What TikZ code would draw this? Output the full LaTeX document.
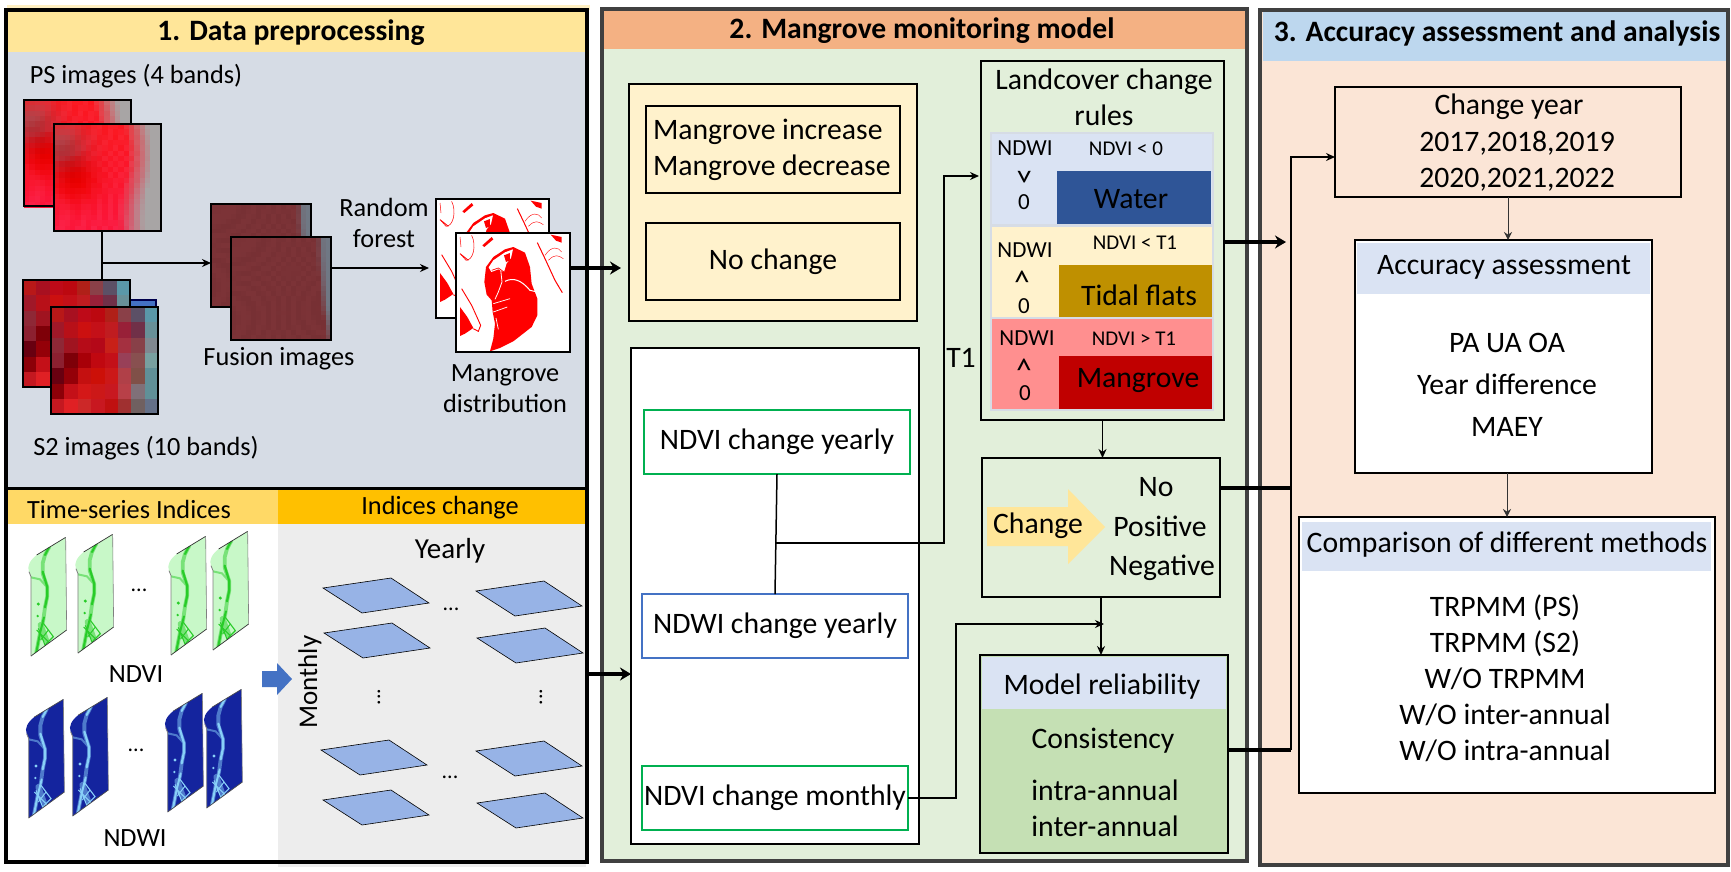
\documentclass[tikz,border=0pt]{standalone}
\usepackage{fontspec}
\setmainfont{Carlito}
\usetikzlibrary{arrows.meta,calc}
\definecolor{hdA}{HTML}{FFE699}
\definecolor{hdB}{HTML}{FFD966}
\definecolor{hdC}{HTML}{FFC000}
\definecolor{hdD}{HTML}{F4B183}
\definecolor{hdE}{HTML}{BDD7EE}
\definecolor{slateb}{HTML}{D6DCE5}
\definecolor{greenb}{HTML}{E2EFDA}
\definecolor{peachb}{HTML}{FBE5D6}
\definecolor{creamb}{HTML}{FFF2CC}
\definecolor{paleb}{HTML}{DAE3F3}
\definecolor{grayb}{HTML}{EDEDED}
\definecolor{framed}{HTML}{404040}
\definecolor{okgreen}{HTML}{00B050}
\definecolor{okblue}{HTML}{4472C4}
\definecolor{parac}{HTML}{97B3E6}
\definecolor{waterc}{HTML}{2F5597}
\definecolor{tidalc}{HTML}{BF9000}
\definecolor{mangc}{HTML}{C00000}
\definecolor{pinkc}{HTML}{FF8F8F}
\definecolor{modelc}{HTML}{C5E0B4}
\definecolor{chgc}{HTML}{FFE699}
\definecolor{stripG}{HTML}{C8F8C8}
\definecolor{stripGb}{HTML}{28CC28}
\definecolor{stripB}{HTML}{14249E}
\definecolor{stripBb}{HTML}{88D0F8}
\definecolor{mapred}{HTML}{FF0000}
\tikzset{
  lab/.style={inner sep=0pt,outer sep=0pt,align=center,text=black,font=\fontsize{26.3}{30}\selectfont},
  big/.style={lab,font=\fontsize{29.7}{36}\selectfont},
  small/.style={lab,font=\fontsize{21}{25}\selectfont},
  smallb/.style={lab,font=\fontsize{23}{25}\selectfont},
  chev/.style={lab,font=\fontsize{32}{32}\selectfont},
  ttl/.style={lab,font=\bfseries\fontsize{29.6}{34}\selectfont},
  box/.style={inner sep=0pt,outer sep=0pt,draw=black,line width=1.8pt},
  plain/.style={inner sep=0pt,outer sep=0pt},
  arr/.style={draw=black,line width=1.5pt,-{Stealth[length=9pt,width=8pt]}},
  thinarr/.style={draw=black!80,line width=1pt,-{Stealth[length=8pt,width=8pt]}},
  line/.style={draw=black,line width=1.5pt},
  fat/.style={draw=black,line width=3.6pt},
  fatarr/.style={fat,-{Stealth[length=11pt,width=13pt]}},
  parallel/.style={fill=parac,draw=black,line width=.6pt},
}
\newcommand\bx[7]{%
  \pgfmathsetmacro\myX{(#2+#4)/2}\pgfmathsetmacro\myY{(#3+#5)/2}%
  \pgfmathsetmacro\myW{#4-#2}\pgfmathsetmacro\myH{#5-#3}%
  \node[plain,minimum width=\myW pt,minimum height=\myH pt,#6] (#1) at (\myX,\myY) {#7};}
\newcommand\psmap[3]{%
  \foreach \i in {0,...,19}{\foreach \j in {0,...,19}{%
    \pgfmathsetmacro\pxu{(\i+.5)/20}\pgfmathsetmacro\pxv{(\j+.5)/20}%
    \pgfmathsetmacro\pxn{.5+.5*sin(\i*\i*7+\j*\j*11+\i*\j*3+#3)}%
    \pgfmathsetmacro\pxt{min(1,max(0,(\pxu-.64-.04*sin(\pxv*300))/.24))}%
    \pgfmathsetmacro\pxa{exp(-((\pxu-.08)*(\pxu-.08)+(\pxv-.22)*(\pxv-.22))/.05)}%
    \pgfmathsetmacro\pxb{exp(-((\pxu-.2)*(\pxu-.2)+(\pxv-.52)*(\pxv-.52))/.05)}%
    \pgfmathtruncatemacro\pxR{(1-\pxt)*(252-75*\pxa-12*\pxb)+\pxt*168}%
    \pgfmathtruncatemacro\pxG{(1-\pxt)*(22+12*\pxn+38*\pxa)*(1-\pxb)+\pxt*165}%
    \pgfmathtruncatemacro\pxB{(1-\pxt)*(30+14*\pxn+\pxv*30+30*\pxa)*(1-\pxb)+\pxt*165}%
    \definecolor{pxc}{RGB}{\pxR,\pxG,\pxB}%
    \fill[pxc] ({#1+\i*5.35},{#2+\j*5.35}) rectangle ++(5.9,5.9);
  }}}
\newcommand\fusmap[2]{%
  \foreach \i in {0,...,19}{\foreach \j in {0,...,20}{%
    \pgfmathsetmacro\pxu{(\i+.5)/20}\pgfmathsetmacro\pxv{(\j+.5)/21}%
    \pgfmathsetmacro\pxn{sin(\i*\i*7+\j*\j*11+\i*\j*3)}%
    \pgfmathsetmacro\pxt{min(1,max(0,(\pxu-.86-.10*\pxv*\pxv)/.07))}%
    \pgfmathtruncatemacro\pxR{(1-\pxt)*(122+3*\pxn)+\pxt*112}%
    \pgfmathtruncatemacro\pxG{(1-\pxt)*(50+2*\pxn)+\pxt*120}%
    \pgfmathtruncatemacro\pxB{(1-\pxt)*(54+2*\pxn)+\pxt*132}%
    \definecolor{pxc}{RGB}{\pxR,\pxG,\pxB}%
    \fill[pxc] ({#1+\i*5},{#2+\j*4.9}) rectangle ++(5.5,5.4);
  }}}
\newcommand\stwomap[2]{%
  \foreach \row [count=\j from 0] in {%
   {B81818,A81020,BE0A18,BC0810,B02018,8A4048,5C5066,5A98A8},%
   {A01828,B81018,CC1010,C41018,C01C20,982038,703048,689098},%
   {8E2836,A01420,B60C18,B40818,C82018,A43040,884048,808890},%
   {8C2030,7E0008,A80008,C00810,C41018,984058,885050,78A0A0},%
   {680010,940008,C41010,CC1008,CC1818,B04048,805048,609098},%
   {8C0008,C41018,D41818,CC1818,C81820,B84048,807078,609098},%
   {C41820,E02024,CC2828,C81820,C01010,A03030,706060,647088}}{%
    \foreach \cellc [count=\i from 0] in \row {%
      \definecolor{pxc}{HTML}{\cellc}%
      \fill[pxc] ({#1+\i*13.375},{#2+\j*15.3}) rectangle ++(13.8,15.7);
    }}}
\newcommand\mangmap{%
  \fill[mapred] (180,478) -- (190,440) -- (195,395) -- (188,360) -- (185,325) -- (170,308) -- (163,270) -- (168,225) -- (190,195) -- (225,172) -- (250,165) -- (285,182) -- (300,225) -- (305,275) -- (322,320) -- (322,370) -- (305,405) -- (250,448) -- (210,468) -- cycle;
  \fill[white] (176,226) -- (190,205) -- (225,181) -- (249,172) -- (243,198) -- (230,214) -- (222,240) -- (205,232) -- (184,240) -- cycle;
  \draw[white,line width=.8pt] (212,232) -- (216,270) -- (205,300) -- (195,322);
  \draw[white,line width=1pt] (225,268) .. controls (250,255) and (275,265) .. (300,295) -- (322,300);
  \draw[white,line width=.7pt] (190,335) -- (240,320);
  \draw[white,line width=.7pt] (190,360) -- (232,345);
  \draw[white,line width=.7pt] (198,378) -- (205,412);
  \fill[mapred] (222,190) -- (240,183) -- (240,205) -- (228,210) -- cycle;
  \draw[mapred,line width=.7pt] (185,235) -- (205,228) -- (222,240);
  \fill[mapred] (90,345) -- (112,375) -- (130,408) -- (105,425) -- (90,432) -- cycle;
  \draw[mapred,line width=.9pt] (95,290) -- (125,340) -- (152,400) -- (145,418) -- (130,410);
  \fill[mapred] (157,160) -- (185,135) -- (190,142) -- (163,165) -- cycle;
  \draw[mapred,line width=.5pt] (125,130) .. controls (140,160) and (130,205) .. (108,205) -- (93,188);
  \fill[mapred] (362,128) -- (395,135) -- (395,152) -- (378,146) -- cycle;
  \draw[mapred,line width=1pt] (322,152) -- (345,200) -- (375,265) -- (397,302);
  \draw[mapred,line width=.4pt] (345,190) .. controls (365,160) and (385,165) .. (395,180);
  \draw[mapred,line width=.4pt] (355,205) .. controls (375,185) and (385,190) .. (400,200);
  \draw[mapred,line width=.5pt] (90,135) -- (93,165);
  \draw[mapred,line width=.9pt] (90,185) -- (115,205);
}
\newcommand\idxstrip[5]{%
  \begin{scope}[shift={(#1,#2)},x=.3333pt,y=-.3333pt]
    \begin{scope}
      \clip (137,22) -- (50,75) .. controls (30,90) and (20,110) .. (27,125) -- (33,140) -- (33,378) -- (140,300) -- cycle;
      \fill[#3] (0,0) rectangle (150,390);
      \draw[#3!50!#4,line width=3.8pt,line cap=round,line join=round] (88,50) -- (75,75) -- (68,100) -- (68,130) -- (82,172) -- (82,198) -- (75,232) -- (70,270) -- (60,310) -- (48,372);
      \draw[#3!50!#4,line width=2pt] (33,142) -- (60,148) -- (78,168);
      \draw[#3!50!#4,line width=6pt,line cap=round] (62,285) -- (78,330);
      \draw[#4,line width=2pt,line cap=round,line join=round] (88,50) -- (75,75);
      \draw[#4,line width=2.2pt,line cap=round,line join=round] (68,125) -- (82,172) -- (82,198) -- (75,232);
      \draw[#4,line width=2pt,line cap=round,line join=round] (72,262) -- (60,310) -- (48,372);
      \fill[#4] (55,222) circle (5);
      \fill[#4] (53,258) circle (4);
      \draw[#4,line width=1.1pt] (70,280) -- (100,320) -- (75,345) -- (55,295);
      \draw[#4,line width=1pt] (50,300) -- (90,340);
      \draw[#4,line width=1pt] (62,330) -- (85,300);
    \end{scope}
    \draw[#5,line width=.7pt] (137,22) -- (50,75);
    \draw[#5,line width=.7pt] (33,378) -- (140,300);
    \draw[gray,line width=.6pt] (137,22) -- (140,300);
    \draw[gray,line width=.8pt] (27,125) -- (33,140) -- (33,378);
  \end{scope}}
\begin{document}
\begin{tikzpicture}[x=1pt,y=-1pt]
\useasboundingbox (0,0) rectangle (1731,871);
\fill[white] (0,0) rectangle (1731,871);

% ---------- panel 1 ----------
\fill[hdA!60] (7,5) rectangle (590,10);
\fill[grayb] (278,860) rectangle (586,867);
\bx{hd1}{7}{11}{586}{52}{fill=hdA}{}
\bx{pre}{7}{52}{586}{488}{fill=slateb}{}
\bx{tsh}{7}{489}{278}{524}{fill=hdB}{}
\bx{ich}{278}{489}{586}{524}{fill=hdC}{}
\bx{tsb}{7}{524}{278}{861}{fill=white}{}
\bx{icb}{278}{524}{586}{861}{fill=grayb}{}
\node[ttl] (t1) at (291,33) {1. Data preprocessing};
\node[lab] (l1) at (136,76) {PS images (4 bands)};
\node[lab] (l2) at (146,448) {S2 images (10 bands)};
\node[lab] (l3) at (279,359) {Fusion images};
\node[lab] (l4) at (384,223) {Random\\[1pt]forest};
\node[lab] (l5) at (505,389) {Mangrove\\[1pt]distribution};
\node[lab] (l6) at (129,509) {Time-series Indices};
\node[lab] (l7) at (440,508) {Indices change};

\psmap{24}{100}{0}
\bx{psb}{24}{100}{131}{206}{draw=black,line width=1.3pt}{}
\psmap{54}{124}{40}
\bx{psf}{54}{124}{161}{231}{draw=black,line width=1.3pt}{}
\fill[okblue] (130,300) rectangle (156,320);
\draw[black!70!blue,line width=1.3pt] (130,300) -- (156,300) -- (156,320);
\stwomap{23}{280}
\bx{stb}{23}{280}{130}{387}{draw=black,line width=1.3pt}{}
\stwomap{51}{307}
\bx{stf}{51}{307}{158}{414}{draw=black,line width=1.3pt}{}
\fusmap{211}{204}
\bx{fub}{211}{204}{311}{307}{draw=black,line width=1.3pt}{}
\fusmap{231}{237}
\bx{fuf}{231}{237}{331}{340}{draw=black,line width=1.3pt}{}
\bx{mab}{436}{199}{549}{318}{fill=white}{}
\begin{scope}
  \clip (436,199) rectangle (549,318);
  \begin{scope}[shift={(410,158)},x=.3333pt,y=-.3333pt]\mangmap\end{scope}
\end{scope}
\draw[black,line width=1.2pt] (mab.north west) rectangle (mab.south east);
\bx{maf}{456}{233}{570}{352}{fill=white}{}
\begin{scope}
  \clip (456,233) rectangle (570,352);
  \begin{scope}[shift={(430,192)},x=.3333pt,y=-.3333pt]\mangmap\end{scope}
\end{scope}
\draw[black,line width=1.2pt] (maf.north west) rectangle (maf.south east);

\coordinate (j1) at (102,263);
\draw[line] (j1 |- psf.south) -- (j1 |- stb.north);
\draw[arr] (j1) -- (j1 -| fub.west);
\coordinate (fo) at (331,268);
\coordinate (mi) at (436,268);
\draw[arr,shorten >=7pt] (fo) -- (mi);

\foreach \dx/\dy in {0/0,47/-3,140/-1,182/-6}{\idxstrip{\dx+20}{\dy+530}{stripG}{stripGb}{black!80}}
\foreach \dx/\dy in {0/0,44/-2,139/-6,178/-10}{\idxstrip{\dx+17.7}{\dy+692}{stripB}{stripBb}{black!70}}
\node[lab,font=\fontsize{22}{26}\selectfont] (d1) at (139,590) {...};
\node[lab,font=\fontsize{22}{26}\selectfont] (d2) at (136,750) {...};
\node[lab] (l8) at (136,674) {NDVI};
\node[lab] (l9) at (135,838) {NDWI};
\fill[okblue] (262,671) -- (277,671) -- (277,663) -- (292,679) -- (277,695) -- (277,687) -- (262,687) -- cycle;
\node[lab,font=\fontsize{29}{32}\selectfont] (l10) at (450,551) {Yearly};
\node[lab,rotate=90,font=\fontsize{27}{30}\selectfont] (l11) at (310,682) {Monthly};
\foreach \px/\py in {323/588,324/633,321/750,323/800,476/591,477/638,476/751,477/803}{
  \filldraw[parallel] (\px,\py) -- ++(68,-10) -- ++(38,25) -- ++(-67,10) -- cycle;}
\node[lab,font=\fontsize{22}{26}\selectfont] (d3) at (451,609) {...};
\node[lab,font=\fontsize{22}{26}\selectfont] (d4) at (450,777) {...};
\node[lab,rotate=90,font=\fontsize{22}{26}\selectfont] (d5) at (379,697) {...};
\node[lab,rotate=90,font=\fontsize{22}{26}\selectfont] (d6) at (541,697) {...};

\draw[black,line width=3.4pt] (6,10) rectangle (587,862);
\draw[black,line width=2.6pt] (6,488.5) -- (587,488.5);
\bx{p1}{6}{10}{587}{862}{}{}

% ---------- panel 2 ----------
\bx{p2}{602}{9}{1247}{861}{fill=greenb,draw=framed,line width=3.4pt}{}
\bx{hd2}{604}{11}{1245}{49}{fill=hdD}{}
\node[ttl] (t2) at (922,31) {2. Mangrove monitoring model};
\bx{ybox}{629}{84}{917}{321}{box,fill=creamb}{}
\bx{ybi}{646}{106}{900}{193}{box}{}
\node[big,align=left,anchor=west] (l20) at (653,150) {Mangrove increase\\Mangrove decrease};
\bx{nch}{646}{223}{900}{300}{box}{\fontsize{29.7}{32}\selectfont No change}
\bx{wbox}{631}{348}{919}{844}{box,fill=white}{}
\bx{nvy}{644}{410}{910}{474}{draw=okgreen,line width=1.8pt}{\fontsize{29.7}{32}\selectfont NDVI change yearly}
\bx{nwy}{642}{594}{908}{658}{draw=okblue,line width=1.8pt}{\fontsize{29.7}{32}\selectfont NDWI change yearly}
\bx{nvm}{642}{766}{908}{830}{draw=okgreen,line width=1.8pt}{\fontsize{29.7}{32}\selectfont NDVI change monthly}
\node[big] (l21) at (961,358) {T1};

\bx{lc}{981}{61}{1224}{420}{box}{}
\node[big] (l22) at (1104,97) {Landcover change\\rules};
\bx{tb}{990}{132}{1214}{411}{fill=slateb}{}
\bx{r1}{992}{134}{1212}{224}{fill=paleb}{}
\bx{r2}{992}{227}{1212}{317}{fill=creamb}{}
\bx{r3}{992}{319}{1212}{409}{fill=pinkc}{}
\bx{cw}{1057}{171}{1211}{224}{fill=waterc}{}
\bx{ct}{1059}{265}{1212}{317}{fill=tidalc}{}
\bx{cm}{1059}{356}{1212}{409}{fill=mangc}{}
\node[big] (w1) at (1131,199) {Water};
\node[big] (w2) at (1139,295) {Tidal flats};
\node[big] (w3) at (1138,381) {Mangrove};
\node[smallb] (a1) at (1025,148) {NDWI};
\node[chev,rotate=-90] (a2) at (1023,176) {>};
\node[smallb] (a3) at (1024,202) {0};
\node[small] (a4) at (1126,149) {NDVI < 0};
\node[smallb] (b1) at (1025,250) {NDWI};
\node[chev,rotate=90] (b2) at (1024,278) {>};
\node[smallb] (b3) at (1024,306) {0};
\node[small] (b4) at (1135,243) {NDVI < T1};
\node[smallb] (c1) at (1027,338) {NDWI};
\node[chev,rotate=90] (c2) at (1026,366) {>};
\node[smallb] (c3) at (1025,393) {0};
\node[small] (c4) at (1134,339) {NDVI > T1};

\bx{cb}{982}{458}{1220}{597}{box}{}
\fill[chgc] (987,507) -- (1068,507) -- (1068,489) -- (1105,527) -- (1068,564) -- (1068,546) -- (987,546) -- cycle;
\node[big] (e1) at (1038,526) {Change};
\node[big] (e2) at (1156,487) {No};
\node[big] (e3) at (1160,526) {Positive};
\node[big] (e4) at (1162,568) {Negative};

\bx{mr}{980}{655}{1228}{853}{fill=modelc}{}
\bx{mrh}{982}{657}{1226}{709}{fill=paleb}{}
\draw[black,line width=1.8pt] (mr.north west) rectangle (mr.south east);
\node[big] (f1) at (1102,687) {Model reliability};
\node[big] (f2) at (1103,741) {Consistency};
\node[big] (f3) at (1105,808) {intra-annual\\inter-annual};

\coordinate (jn) at (776,543);
\coordinate (up) at (944,543);
\coordinate (lcin) at (981,176);
\draw[line] (nvy.south) -- (nwy.north);
\draw[arr,shorten >=2pt] (jn) -- (up) |- (lcin);
\draw[arr] (lc.south) -- (lc.south |- cb.north);
\draw[arr] (cb.south) -- (cb.south |- mr.north);
\coordinate (mon) at (956,624);
\coordinate (mon2) at (1104,624);
\draw[arr] (nvm.east |- 0,798) -| (mon) -- (mon2);
\draw[fatarr,shorten >=8pt] (maf.east |- mi) -- (ybox.west |- mi);
\coordinate (wbin) at (631,674);
\draw[fatarr] (p1.east |- wbin) -- (wbin);

% ---------- panel 3 ----------
\bx{p3}{1260}{10}{1728}{865}{fill=peachb,draw=framed,line width=3.4pt}{}
\bx{hd3}{1263}{12}{1726}{61}{fill=hdE}{}
\node[ttl] (t3) at (1497,33) {3. Accuracy assessment and analysis};
\bx{cy}{1335}{87}{1681}{197}{box}{}
\node[big] (g0) at (1509,107) {Change year};
\node[big] (g1) at (1517,161) {2017,2018,2019\\2020,2021,2022};
\bx{ac}{1355}{240}{1652}{473}{box,fill=white}{}
\bx{ach}{1357}{243}{1650}{294}{fill=paleb}{}
\node[big] (g2) at (1504,267) {Accuracy assessment};
\node[lab,font=\fontsize{29.7}{42}\selectfont] (g3) at (1507,385) {PA UA OA\\Year difference\\MAEY};
\bx{cp}{1299}{517}{1715}{793}{box,fill=white}{}
\bx{cph}{1302}{522}{1711}{571}{fill=paleb}{}
\node[big] (g4) at (1507,545) {Comparison of different methods};
\node[big] (g5) at (1505,678) {TRPMM (PS)\\TRPMM (S2)\\W/O TRPMM\\W/O inter-annual\\W/O intra-annual};

\coordinate (bus) at (1291,157);
\coordinate (bm) at (1291,371);
\coordinate (bb) at (1291,750);
\coordinate (lco) at (1291,242);
\coordinate (cbo) at (1291,488);
\draw[arr] (bb) -- (bus) -- (bus -| cy.west);
\draw[black,line width=2.4pt] (bb) -- (bm);
\draw[fatarr,shorten >=5pt] (lc.east |- lco) -- (lco);
\draw[fat] (cb.east |- cbo) -- (cbo);
\draw[fat] (mr.east |- bb) -- (bb);
\draw[thinarr] (cy.south) -- (cy.south |- ac.north);
\draw[thinarr] (cp.north |- ac.south) -- (cp.north);
\end{tikzpicture}
\end{document}
